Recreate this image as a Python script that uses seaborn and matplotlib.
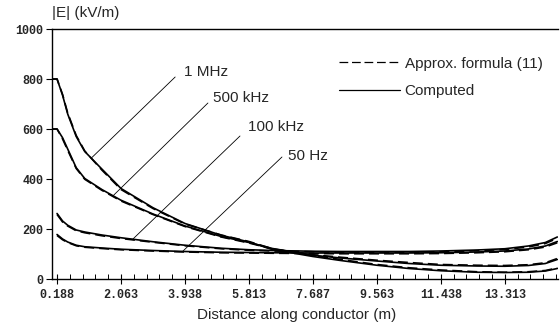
import pandas as pd
import matplotlib
import matplotlib.pyplot as plt
from matplotlib.lines import Line2D
from matplotlib.ticker import FixedLocator
import seaborn as sns

# headless backend
matplotlib.use('Agg')

# distance along conductor (m)
distance = [0.05, 0.188, 0.35, 0.5, 0.75, 1.0, 1.5, 2.063, 3.0, 3.938, 5.0, 5.813,
            6.5, 7.687, 8.5, 9.563, 10.5, 11.438, 12.5, 13.313, 14.0, 14.5, 14.85]

# |E| in kV/m, computed
comp_1mhz = [800, 800, 735, 660, 570, 510, 440, 362, 285, 222, 175, 148,
             118, 90, 74, 55, 42, 33, 27, 26, 27, 32, 42]
comp_500khz = [600, 600, 565, 520, 445, 402, 358, 315, 260, 212, 170, 146,
               122, 95, 84, 72, 62, 55, 52, 51, 54, 62, 78]
comp_100khz = [None, 262, 232, 215, 196, 188, 176, 165, 149, 135, 123, 117,
               114, 111, 110, 110, 110, 112, 116, 121, 132, 146, 168]
comp_50hz = [None, 178, 160, 148, 135, 129, 124, 119, 114, 110, 107, 106,
             105, 104, 104, 104, 104, 105, 108, 112, 120, 132, 150]

# |E| in kV/m, approximate formula (11)
appr_1mhz = [800, 800, 738, 664, 574, 512, 436, 358, 282, 220, 176, 150,
             121, 94, 78, 58, 45, 36, 29, 27, 29, 34, 44]
appr_500khz = [600, 600, 560, 515, 442, 399, 355, 312, 258, 210, 168, 144,
               120, 97, 87, 75, 66, 58, 55, 54, 57, 65, 82]
appr_100khz = [None, 258, 228, 212, 193, 185, 173, 162, 147, 133, 121, 115,
               112, 109, 107, 107, 107, 109, 113, 118, 128, 142, 163]
appr_50hz = [None, 174, 157, 146, 133, 127, 122, 117, 112, 108, 105, 104,
             103, 102, 101, 101, 101, 102, 105, 109, 117, 128, 145]

frequencies = ['1 MHz', '500 kHz', '100 kHz', '50 Hz']
computed = [comp_1mhz, comp_500khz, comp_100khz, comp_50hz]
approx = [appr_1mhz, appr_500khz, appr_100khz, appr_50hz]

tick_vals = [0.188, 2.063, 3.938, 5.813, 7.688, 9.563, 11.438, 13.313]
tick_labels = ['0.188', '2.063', '3.938', '5.813', '7.687', '9.563', '11.438', '13.313']

# long-format table for seaborn
rows = []
for freq, comp, appr in zip(frequencies, computed, approx):
    for d, c, a in zip(distance, comp, appr):
        rows.append((freq, 'Computed', d, c))
        rows.append((freq, 'Approx. formula (11)', d, a))
df = pd.DataFrame(rows, columns=['Frequency', 'Method', 'Distance', 'E']).dropna()

sns.set_style('white')
plt.rcParams['font.family'] = ['Liberation Sans', 'DejaVu Sans']

fig = plt.figure(figsize=(5.6, 3.31), dpi=100)
ax = fig.add_axes([52 / 560, 1 - 279 / 331, 506 / 560, 250 / 331])

sns.lineplot(
    data=df, x='Distance', y='E',
    hue='Frequency', style='Method',
    palette={f: 'black' for f in frequencies},
    dashes={'Computed': '', 'Approx. formula (11)': (6, 3)},
    linewidth=1.2, estimator=None, legend=False, ax=ax
)

ax.set_xlim(0.04, 14.87)
ax.set_ylim(0, 1000)
ax.set_xlabel('')
ax.set_ylabel('')

for side in ['left', 'bottom', 'top']:
    ax.spines[side].set_color('black')
    ax.spines[side].set_linewidth(1.0)
ax.spines['right'].set_visible(False)

ax.set_xticks(tick_vals, labels=tick_labels)
ax.xaxis.set_minor_locator(FixedLocator([0.188 + 0.375 * i for i in range(40)]))
ax.set_yticks([0, 200, 400, 600, 800, 1000])
ax.tick_params(axis='x', which='major', direction='inout', length=7, width=0.8,
               color='black', pad=4, bottom=True)
ax.tick_params(axis='x', which='minor', direction='in', length=3.5, width=0.7,
               color='black', bottom=True)
ax.tick_params(axis='y', direction='out', length=4, width=0.8, color='black',
               pad=2, left=True)
for lab in ax.get_xticklabels() + ax.get_yticklabels():
    lab.set_fontfamily('Liberation Mono')
    lab.set_fontweight('bold')
    lab.set_fontsize(8.5)

# frequency labels with leader lines
leaders = [
    ('1 MHz', (1.21, 486), (3.65, 808), (3.92, 828)),
    ('500 kHz', (1.83, 333), (4.61, 704), (4.76, 724)),
    ('100 kHz', (2.39, 157), (5.55, 572), (5.78, 608)),
    ('50 Hz', (3.88, 112), (6.78, 488), (6.96, 494)),
]
for name, p0, p1, pt in leaders:
    ax.plot([p0[0], p1[0]], [p0[1], p1[1]], color='black', lw=0.6)
    ax.text(pt[0], pt[1], name, fontsize=11, va='center', ha='left')

handles = [
    Line2D([], [], color='black', lw=0.9, dashes=(7, 3)),
    Line2D([], [], color='black', lw=0.9),
]
ax.legend(handles, ['Approx. formula (11)', 'Computed'], frameon=False,
          loc='upper left', bbox_to_anchor=(0.567, 0.889), fontsize=11,
          handlelength=4.0, handletextpad=0.3, labelspacing=0.9,
          borderpad=0, borderaxespad=0)

fig.text(52 / 560, 1 - 13 / 331, '|E| (kV/m)', fontsize=11, va='center', ha='left')
fig.text(297 / 560, 1 - 315 / 331, 'Distance along conductor (m)', fontsize=11,
         va='center', ha='center')

plt.savefig('out.png', dpi=100)
